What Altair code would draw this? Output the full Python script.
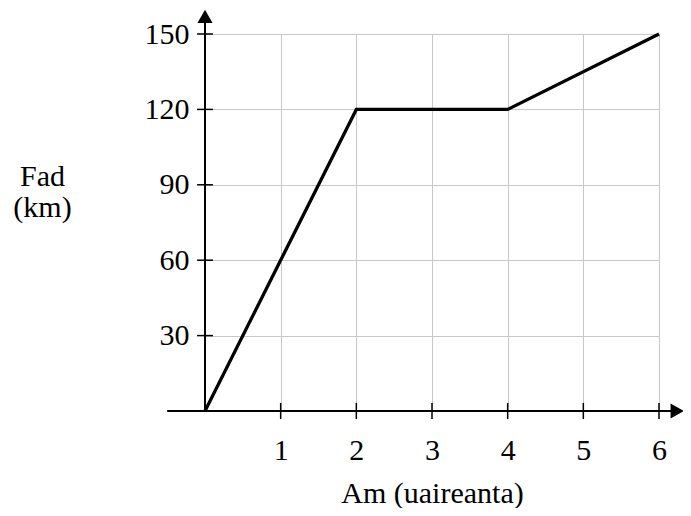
import altair as alt
import pandas as pd

# Data
time_h = [0, 2, 4, 6]
dist_km = [0, 120, 120, 150]
x_ticks = [1, 2, 3, 4, 5, 6]
y_ticks = [30, 60, 90, 120, 150]

FONT = "Liberation Serif"
FS = 30

line_df = pd.DataFrame({"x": time_h, "y": dist_km})

# axis lines (extending beyond the plot, drawn in data units)
axis_df = pd.DataFrame({"x": [-0.5, 0.0], "x2": [6.2, 0.0], "y": [0.0, 0.0], "y2": [0.0, 156.0]})
xtick_df = pd.DataFrame({"x": x_ticks, "x2": x_ticks, "y": [-3.2] * len(x_ticks), "y2": [3.2] * len(x_ticks)})
ytick_df = pd.DataFrame({"x": [-0.105] * len(y_ticks), "x2": [0.105] * len(y_ticks), "y": y_ticks, "y2": y_ticks})
arrow_r = pd.DataFrame({"x": [6.24], "y": [0.0]})
arrow_u = pd.DataFrame({"x": [0.0], "y": [157.0]})

xs = alt.Scale(domain=[0, 6], nice=False, zero=False)
ys = alt.Scale(domain=[0, 150], nice=False, zero=False)

x_axis = alt.Axis(values=x_ticks, format="d", grid=True, gridColor="#c8c8c8", gridWidth=1,
                  domain=False, ticks=False, labelPadding=24, labelFlush=False,
                  labelFont=FONT, labelFontSize=FS, labelColor="black",
                  title="Am (uaireanta)", titleFont=FONT, titleFontSize=FS,
                  titleFontWeight="normal", titleColor="black",
                  titleY=82, titleBaseline="middle")
y_axis = alt.Axis(values=y_ticks, format="d", grid=True, gridColor="#c8c8c8", gridWidth=1,
                  domain=False, ticks=False, labelPadding=16, labelFlush=False,
                  labelFont=FONT, labelFontSize=FS, labelColor="black",
                  title=["Fad", "(km)"], titleFont=FONT, titleFontSize=FS,
                  titleFontWeight="normal", titleColor="black", titleAngle=0,
                  titleAlign="center", titleBaseline="middle", titleLineHeight=31,
                  titleX=-163, titleY=142)

line = alt.Chart(line_df).mark_line(color="black", strokeWidth=3.3).encode(
    x=alt.X("x:Q", scale=xs, axis=x_axis),
    y=alt.Y("y:Q", scale=ys, axis=y_axis),
)

axes = alt.Chart(axis_df).mark_rule(color="black", strokeWidth=2).encode(
    x="x:Q", x2="x2:Q", y="y:Q", y2="y2:Q")
xt = alt.Chart(xtick_df).mark_rule(color="black", strokeWidth=1.5).encode(
    x="x:Q", x2="x2:Q", y="y:Q", y2="y2:Q")
yt = alt.Chart(ytick_df).mark_rule(color="black", strokeWidth=1.5).encode(
    x="x:Q", x2="x2:Q", y="y:Q", y2="y2:Q")
ar = alt.Chart(arrow_r).mark_point(shape="triangle-right", filled=True, size=230,
                                   color="black", opacity=1).encode(x="x:Q", y="y:Q")
au = alt.Chart(arrow_u).mark_point(shape="triangle-up", filled=True, size=230,
                                   color="black", opacity=1).encode(x="x:Q", y="y:Q")

chart = alt.layer(axes, xt, yt, line, ar, au).properties(
    width=454, height=377,
    autosize=alt.AutoSizeParams(type="none"),
    padding={"left": 197, "top": 26, "right": 24, "bottom": 97},
).configure_view(stroke=None)

chart.save("out.html", embed_options={"renderer": "svg", "actions": False})
